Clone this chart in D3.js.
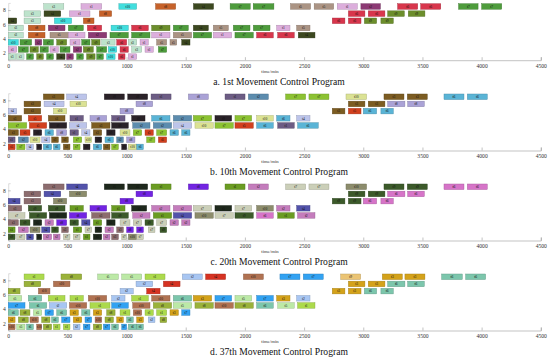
<!DOCTYPE html>
<html>
<head>
<meta charset="utf-8">
<script src="https://cdn.jsdelivr.net/npm/d3@7"></script>
<style>
  body { margin: 0; background: #fff; }
  svg { display: block; font-family: "Liberation Serif", "Times New Roman", serif; }
</style>
</head>
<body>
<div id="chart"></div>
<script>
// Each task: [machine, start, end, job]
const tasksA = [
  [8,300,470,"t3"],[8,615,790,"t1"],[8,935,1085,"t10"],[8,1245,1415,"t8"],[8,1565,1735,"t4"],[8,1875,2045,"t7"],[8,2070,2245,"t7"],
  [8,2385,2555,"t5"],[8,2585,2750,"t5"],[8,2780,2950,"t1"],[8,2980,3145,"t2"],[8,3290,3460,"t6"],[8,3485,3655,"t6"],[8,3805,3970,"t7"],[8,4000,4170,"t7"],
  [7,134,275,"t3"],[7,303,444,"t4"],[7,517,691,"t1"],[7,770,874,"t8"],
  [7,2874,3014,"t6"],[7,3042,3183,"t6"],[7,3206,3347,"t9"],[7,3380,3521,"t9"],
  [6,0,72,"t4"],[6,134,275,"t3"],[6,390,536,"t10"],[6,635,725,"t8"],
  [6,2738,2845,"t6"],[6,2874,2981,"t6"],[6,3009,3113,"t9"],[6,3149,3254,"t9"],
  [5,0,128,"t3"],[5,170,311,"t8"],[5,339,480,"t2"],[5,508,635,"t7"],[5,669,790,"t6"],[5,869,1015,"t10"],[5,1043,1184,"t6"],
  [5,1212,1367,"t9"],[5,1395,1522,"t7"],[5,1564,1691,"t4"],[5,1733,1860,"t5"],[5,1902,2043,"t7"],[5,2071,2212,"t7"],
  [5,2268,2381,"t1"],[5,2437,2550,"t5"],
  [4,0,128,"t3"],[4,170,311,"t8"],[4,353,508,"t5"],[4,508,649,"t1"],[4,677,832,"t2"],[4,860,1015,"t7"],[4,1043,1198,"t7"],
  [4,1212,1367,"t1"],[4,1395,1550,"t5"],[4,1564,1719,"t7"],[4,1733,1888,"t1"],[4,1916,2071,"t7"],[4,2099,2240,"t6"],
  [4,2277,2417,"t6"],[4,2451,2592,"t4"],
  [3,0,86,"t10"],[3,100,198,"t7"],[3,227,283,"t2"],[3,297,382,"t7"],[3,410,494,"t9"],[3,522,607,"t1"],[3,621,691,"t7"],
  [3,705,776,"t9"],[3,790,903,"t3"],[3,917,1001,"t6"],[3,1015,1086,"t3"],[3,1114,1184,"t1"],[3,1254,1339,"t5"],[3,1367,1424,"t5"],[3,1466,1536,"t4"],
  [2,0,72,"t1"],[2,86,170,"t7"],[2,184,255,"t9"],[2,269,339,"t7"],[2,353,424,"t1"],[2,438,522,"t7"],[2,550,621,"t2"],
  [2,635,719,"t9"],[2,748,832,"t7"],[2,846,917,"t10"],[2,945,1015,"t6"],[2,1043,1128,"t3"],[2,1156,1226,"t1"],[2,1269,1339,"t7"],
  [1,0,66,"t3"],[1,72,134,"t3"],[1,156,213,"t7"],[1,241,297,"t9"],[1,325,382,"t7"],[1,410,480,"t4"],[1,494,550,"t2"],
  [1,579,635,"t7"],[1,663,734,"t9"],[1,748,804,"t7"],[1,832,903,"t10"],[1,931,987,"t6"],[1,1015,1086,"t1"]
];

const tasksB = [
  [8,297,472,"t3"],[8,494,663,"t4"],[8,812,981,"t9"],[8,1010,1178,"t9"],[8,1207,1376,"t1"],[8,1522,1691,"t8"],[8,1832,2001,"t1"],[8,2029,2198,"t2"],
  [8,2344,2513,"t7"],[8,2541,2710,"t7"],[8,2854,3028,"t10"],[8,3175,3344,"t3"],[8,3372,3541,"t3"],[8,3682,3851,"t6"],[8,3879,4048,"t6"],
  [7,134,275,"t3"],[7,303,472,"t4"],[7,522,663,"t10"],[7,1080,1221,"t8"],
  [7,2874,3014,"t3"],[7,3042,3183,"t3"],[7,3206,3352,"t8"],[7,3375,3516,"t8"],
  [6,0,72,"t4"],[6,134,275,"t3"],[6,382,494,"t10"],[6,945,1057,"t8"],
  [6,2738,2845,"t3"],[6,2874,2981,"t5"],[6,3000,3113,"t6"],[6,3149,3254,"t6"],
  [5,0,114,"t3"],[5,170,283,"t5"],[5,339,480,"t3"],[5,522,635,"t1"],[5,691,832,"t8"],[5,874,987,"t1"],[5,1043,1156,"t9"],
  [5,1212,1367,"t6"],[5,1395,1550,"t2"],[5,1564,1719,"t7"],[5,1747,1888,"t9"],[5,1916,2057,"t7"],[5,2099,2240,"t10"],
  [5,2268,2381,"t6"],[5,2437,2550,"t4"],
  [4,0,156,"t7"],[4,179,325,"t5"],[4,348,494,"t9"],[4,517,663,"t4"],[4,705,860,"t3"],[4,874,1015,"t9"],[4,1052,1198,"t2"],
  [4,1226,1381,"t2"],[4,1395,1550,"t4"],[4,1578,1733,"t10"],[4,1747,1902,"t7"],[4,1916,2071,"t5"],[4,2099,2240,"t6"],
  [4,2277,2417,"t1"],[4,2445,2620,"t6"],
  [3,0,86,"t3"],[3,100,184,"t5"],[3,213,283,"t9"],[3,311,382,"t6"],[3,410,494,"t8"],[3,522,593,"t1"],[3,621,691,"t4"],
  [3,719,790,"t3"],[3,832,903,"t9"],[3,945,1029,"t10"],[3,1057,1128,"t7"],[3,1156,1226,"t5"],[3,1254,1339,"t7"],[3,1367,1438,"t6"],[3,1466,1536,"t6"],
  [2,0,58,"t1"],[2,86,170,"t2"],[2,184,269,"t10"],[2,283,353,"t4"],[2,367,424,"t3"],[2,452,508,"t3"],[2,550,621,"t7"],
  [2,649,705,"t10"],[2,734,790,"t9"],[2,818,889,"t6"],[2,917,973,"t2"],[2,1001,1071,"t8"],[2,1170,1240,"t7"],[2,1269,1339,"t5"],
  [1,0,58,"t5"],[1,72,142,"t7"],[1,156,213,"t4"],[1,241,283,"t9"],[1,297,367,"t6"],[1,382,438,"t6"],[1,466,522,"t3"],
  [1,550,607,"t7"],[1,635,691,"t9"],[1,719,790,"t6"],[1,804,860,"t3"],[1,874,931,"t7"],[1,959,1001,"t9"],[1,1015,1086,"t10"],[1,1086,1142,"t6"]
];

const tasksC = [
  [8,297,472,"t3"],[8,494,669,"t4"],[8,812,981,"t5"],[8,1010,1178,"t5"],[8,1207,1376,"t1"],[8,1522,1691,"t8"],[8,1832,2001,"t1"],[8,2029,2198,"t2"],
  [8,2344,2513,"t7"],[8,2541,2710,"t7"],[8,2854,3028,"t10"],[8,3175,3344,"t9"],[8,3372,3541,"t9"],[8,3682,3851,"t6"],[8,3879,4048,"t6"],
  [7,134,275,"t3"],[7,303,444,"t4"],[7,517,663,"t10"],[7,1080,1221,"t8"],
  [7,2874,3014,"t9"],[7,3042,3183,"t9"],[7,3206,3352,"t6"],[7,3375,3516,"t6"],
  [6,0,100,"t4"],[6,134,275,"t3"],[6,382,494,"t10"],[6,945,1057,"t8"],
  [6,2738,2845,"t9"],[6,2874,2981,"t9"],[6,3000,3113,"t6"],[6,3149,3254,"t6"],
  [5,0,114,"t3"],[5,170,283,"t9"],[5,339,480,"t9"],[5,522,635,"t1"],[5,691,832,"t8"],[5,874,987,"t1"],[5,1043,1170,"t5"],
  [5,1212,1367,"t2"],[5,1395,1550,"t2"],[5,1564,1719,"t7"],[5,1747,1888,"t5"],[5,1916,2057,"t7"],[5,2099,2240,"t10"],
  [5,2268,2381,"t2"],[5,2437,2550,"t4"],
  [4,0,142,"t7"],[4,179,325,"t9"],[4,348,494,"t5"],[4,517,663,"t8"],[4,705,860,"t3"],[4,874,1015,"t9"],[4,1052,1198,"t2"],
  [4,1226,1381,"t1"],[4,1395,1550,"t4"],[4,1578,1733,"t10"],[4,1747,1902,"t7"],[4,1916,2071,"t9"],[4,2099,2240,"t6"],
  [4,2277,2417,"t1"],[4,2445,2592,"t2"],
  [3,0,86,"t3"],[3,100,184,"t9"],[3,213,283,"t5"],[3,311,382,"t2"],[3,410,494,"t8"],[3,522,593,"t9"],[3,621,691,"t4"],
  [3,719,790,"t1"],[3,832,903,"t5"],[3,945,1029,"t7"],[3,1057,1128,"t7"],[3,1156,1226,"t9"],[3,1254,1339,"t7"],[3,1367,1438,"t2"],[3,1466,1536,"t2"],
  [2,0,58,"t1"],[2,86,170,"t2"],[2,184,269,"t10"],[2,283,353,"t4"],[2,367,424,"t9"],[2,452,508,"t3"],[2,550,621,"t1"],
  [2,649,705,"t7"],[2,734,790,"t5"],[2,818,889,"t2"],[2,917,973,"t3"],[2,1001,1057,"t8"],[2,1086,1142,"t8"],[2,1184,1240,"t7"],[2,1283,1339,"t9"],
  [1,0,58,"t9"],[1,72,142,"t7"],[1,156,213,"t4"],[1,241,283,"t5"],[1,297,367,"t2"],[1,382,438,"t2"],[1,466,522,"t7"],
  [1,550,607,"t7"],[1,635,691,"t1"],[1,719,790,"t5"],[1,804,860,"t2"],[1,874,931,"t3"],[1,959,1001,"t7"],[1,1015,1086,"t10"],[1,1086,1142,"t7"]
];

const tasksD = [
  [8,134,303,"t1"],[8,446,621,"t8"],[8,756,931,"t5"],[8,959,1128,"t5"],[8,1156,1325,"t1"],[8,1471,1640,"t2"],[8,1668,1837,"t4"],[8,1987,2156,"t10"],
  [8,2296,2465,"t7"],[8,2493,2662,"t7"],[8,2809,2978,"t9"],[8,3161,3330,"t3"],[8,3352,3521,"t3"],[8,3662,3837,"t6"],[8,3865,4034,"t6"],
  [7,134,275,"t8"],[7,382,522,"t10"],[7,1080,1221,"t2"],[7,1311,1452,"t4"],
  [7,2874,3014,"t3"],[7,3042,3183,"t3"],[7,3206,3352,"t6"],[7,3375,3516,"t6"],
  [6,0,100,"t8"],[6,255,353,"t10"],[6,945,1057,"t2"],[6,1170,1283,"t4"],
  [6,2738,2845,"t3"],[6,2874,2981,"t3"],[6,3009,3113,"t6"],[6,3149,3254,"t6"],
  [5,0,114,"t5"],[5,170,283,"t6"],[5,339,480,"t1"],[5,522,635,"t1"],[5,677,832,"t10"],[5,874,987,"t2"],[5,1043,1184,"t1"],
  [5,1212,1367,"t10"],[5,1395,1550,"t6"],[5,1564,1719,"t3"],[5,1747,1888,"t7"],[5,1916,2057,"t5"],[5,2099,2240,"t7"],
  [5,2268,2381,"t3"],[5,2437,2550,"t2"],
  [4,0,142,"t7"],[4,179,325,"t6"],[4,348,494,"t2"],[4,517,663,"t10"],[4,691,860,"t1"],[4,874,1015,"t7"],[4,1052,1198,"t10"],
  [4,1226,1381,"t8"],[4,1395,1550,"t5"],[4,1578,1733,"t8"],[4,1747,1902,"t10"],[4,1916,2071,"t8"],[4,2099,2240,"t6"],
  [4,2277,2417,"t5"],[4,2445,2592,"t1"],
  [3,0,86,"t6"],[3,100,184,"t8"],[3,213,283,"t5"],[3,311,382,"t7"],[3,410,494,"t6"],[3,522,593,"t3"],[3,621,691,"t6"],
  [3,719,790,"t3"],[3,832,903,"t8"],[3,945,1029,"t1"],[3,1057,1128,"t10"],[3,1156,1226,"t1"],[3,1254,1339,"t1"],[3,1367,1438,"t3"],[3,1466,1536,"t7"],
  [2,0,58,"t3"],[2,86,170,"t8"],[2,184,255,"t10"],[2,283,353,"t8"],[2,367,424,"t6"],[2,452,522,"t7"],[2,550,621,"t3"],
  [2,649,705,"t7"],[2,734,790,"t10"],[2,818,889,"t8"],[2,917,973,"t3"],[2,1001,1057,"t6"],[2,1086,1142,"t3"],[2,1184,1240,"t2"],[2,1283,1339,"t8"],
  [1,0,58,"t10"],[1,72,142,"t5"],[1,156,213,"t6"],[1,241,283,"t10"],[1,297,367,"t8"],[1,382,438,"t1"],[1,466,522,"t1"],
  [1,550,607,"t2"],[1,635,691,"t7"],[1,719,790,"t8"],[1,804,860,"t7"],[1,874,931,"t6"],[1,959,1001,"t7"],[1,1015,1086,"t6"],[1,1086,1142,"t6"]
];

const panelTitles = [
  "a. 1st Movement Control Program",
  "b. 10th Movement Control Program",
  "c. 20th Movement Control Program",
  "d. 37th Movement Control Program"
];
const xTicks = [0, 500, 1000, 1500, 2000, 2500, 3000, 3500, 4000, 4500];
const yTicks = [2, 4, 6, 8];
const xLabel = "time/min";

// job colours per program (styling)
const palettes = [
  { t1:"#dcaedc", t2:"#8c3a74", t3:"#bde3cc", t4:"#3c4820", t5:"#ab9484", t6:"#d8364c", t7:"#4e9c3c", t8:"#c6622a", t9:"#6c8e2c", t10:"#42dede" },
  { t1:"#6c5c84", t2:"#5c8cae", t3:"#7c5c22", t4:"#bcc4ea", t5:"#d2401e", t6:"#5ab4d6", t7:"#8cc232", t8:"#aaa2d6", t9:"#2a2228", t10:"#dbe294" },
  { t1:"#6a9c22", t2:"#c47cbc", t3:"#8c6c6e", t4:"#5252aa", t5:"#1e281c", t6:"#d674c8", t7:"#cbcfb8", t8:"#7224e2", t9:"#3c5a2a", t10:"#8c8c6c" },
  { t1:"#acda4c", t2:"#a8c6f2", t3:"#d4a21a", t4:"#d63222", t5:"#bce9a6", t6:"#7cc6ac", t7:"#32a2f2", t8:"#9ab23a", t9:"#ebc474", t10:"#b07252" }
];

const allTasks = [tasksA, tasksB, tasksC, tasksD];

const width = 550, height = 361;
const panelOffset = [0, 90.3, 180.3, 270.3];

const svg = d3.select("#chart").append("svg")
  .attr("width", width)
  .attr("height", height);

const x = d3.scaleLinear().domain([0, 4500]).range([8.2, 540.8]);

allTasks.forEach((tasks, i) => {
  const off = panelOffset[i];
  const y = d3.scaleLinear().domain([1, 9]).range([off + 60.2, off + 2.9]);
  const pal = palettes[i];
  const g = svg.append("g");
  const barH = y(1) - y(1.78);

  // axes: thin grey, ticks pointing inward
  g.append("g")
    .attr("transform", `translate(0,${y(1)})`)
    .call(d3.axisBottom(x).tickValues(xTicks).tickSize(-3).tickPadding(4).tickFormat(d3.format("d")))
    .call(a => a.select(".domain").attr("stroke", "#9a9a9a").attr("stroke-width", 0.6))
    .call(a => a.selectAll(".tick line").attr("stroke", "#9a9a9a").attr("stroke-width", 0.6))
    .call(a => a.selectAll(".tick text").attr("font-size", 5.6).attr("fill", "#333")
      .attr("font-family", "Liberation Serif, serif"));

  g.append("g")
    .attr("transform", `translate(${x(0)},0)`)
    .call(d3.axisLeft(y).tickValues(yTicks).tickSize(-2.5).tickPadding(2.5))
    .call(a => a.select(".domain").attr("stroke", "#bdbdbd").attr("stroke-width", 0.5))
    .call(a => a.selectAll(".tick line").attr("stroke", "#9a9a9a").attr("stroke-width", 0.6))
    .call(a => a.selectAll(".tick text").attr("font-size", 5.6).attr("fill", "#333")
      .attr("font-family", "Liberation Serif, serif"));

  const bars = g.append("g").selectAll("g.task")
    .data(tasks)
    .join("g")
    .attr("class", "task");

  bars.append("rect")
    .attr("x", d => x(d[1]))
    .attr("y", d => y(d[0] + 0.5) - barH / 2)
    .attr("width", d => x(d[2]) - x(d[1]))
    .attr("height", barH)
    .attr("fill", d => pal[d[3]])
    .attr("stroke", d => d3.color(pal[d[3]]).darker(0.8))
    .attr("stroke-width", 0.4);

  bars.append("text")
    .attr("x", d => (x(d[1]) + x(d[2])) / 2)
    .attr("y", d => y(d[0] + 0.5))
    .attr("dy", "0.35em")
    .attr("text-anchor", "middle")
    .attr("font-size", 3.6)
    .attr("fill", "#111")
    .text(d => d[3]);

  g.append("text")
    .attr("x", 270)
    .attr("y", off + 73)
    .attr("text-anchor", "middle")
    .attr("font-size", 4.8)
    .attr("fill", "#333")
    .text(xLabel);

  g.append("text")
    .attr("x", 279)
    .attr("y", off + 85)
    .attr("text-anchor", "middle")
    .attr("font-size", 9.6)
    .attr("fill", "#111")
    .text(panelTitles[i]);
});
</script>
</body>
</html>
